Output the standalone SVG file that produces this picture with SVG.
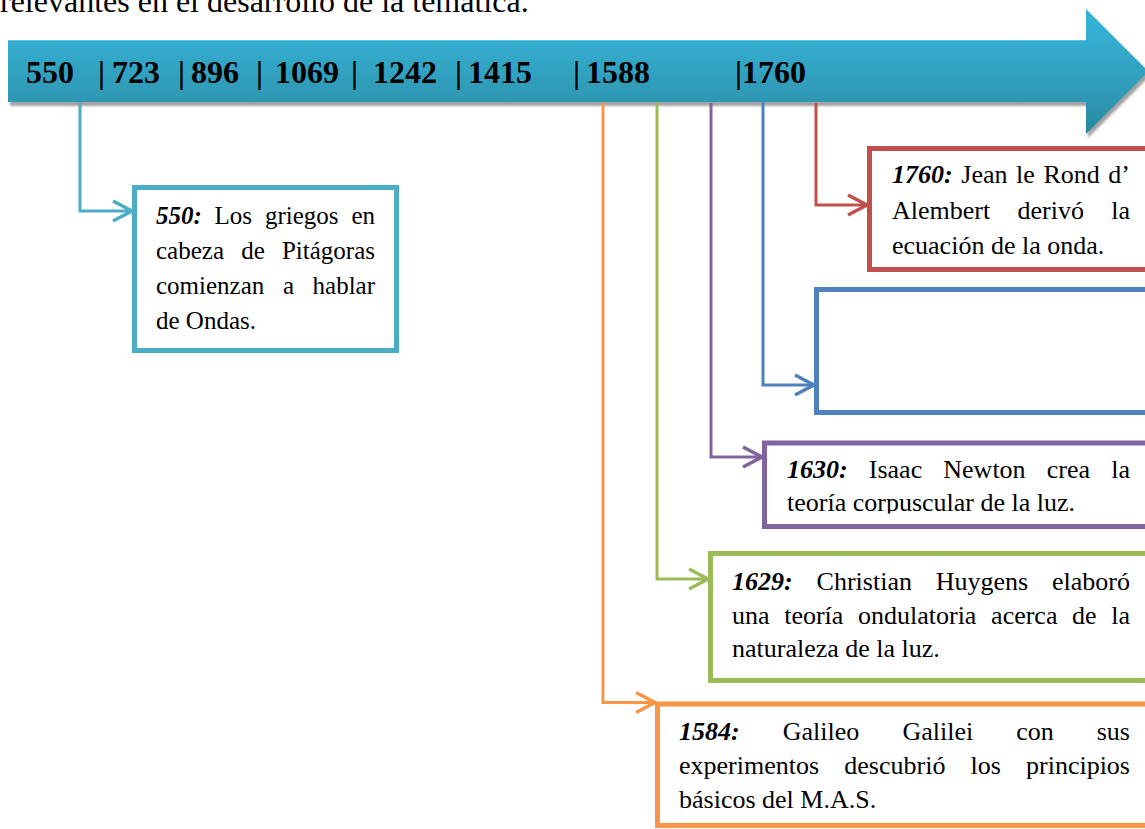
<svg xmlns="http://www.w3.org/2000/svg" width="1145" height="829" viewBox="0 0 1145 829">
  <style>
    text, tspan { font-family: "Liberation Serif", "Times New Roman", serif; }
    .txt { font-size: 26px; fill: #000; }
    .small { font-size: 25px; }
    .yr { font-weight: bold; font-style: italic; }
    .end { text-anchor: end; }
    .lbl { font-size: 32px; font-weight: bold; fill: #000; }
    .head { font-size: 32px; fill: #000; }
    .box { fill: #fff; stroke-width: 5; }
    .conn { fill: none; stroke-width: 3; stroke-linejoin: miter; }
    .chev { fill: none; stroke-width: 3.5; stroke-linecap: butt; stroke-linejoin: miter; }
    .teal { stroke: #4bacc6; }
    .red { stroke: #c0504d; }
    .blue { stroke: #4f81bd; }
    .purple { stroke: #8064a2; }
    .green { stroke: #9bbb59; }
    .orange { stroke: #f79646; }
  </style>
  <defs>
    <linearGradient id="arrowFill" gradientUnits="userSpaceOnUse" x1="0" y1="9" x2="0" y2="134">
      <stop offset="0" stop-color="#38b3d5"/>
      <stop offset="0.25" stop-color="#35aed0"/>
      <stop offset="0.75" stop-color="#2e96b2"/>
      <stop offset="1" stop-color="#2986a0"/>
    </linearGradient>
    <filter id="soft" x="-5%" y="-20%" width="110%" height="140%">
      <feGaussianBlur stdDeviation="0.8"/>
    </filter>
    <marker id="mTeal" markerUnits="userSpaceOnUse" markerWidth="30" markerHeight="30" refX="20" refY="11" orient="auto" overflow="visible">
      <path class="chev teal" d="M1,1 L20,11 L1,21"/>
    </marker>
    <marker id="mRed" markerUnits="userSpaceOnUse" markerWidth="30" markerHeight="30" refX="20" refY="11" orient="auto" overflow="visible">
      <path class="chev red" d="M1,1 L20,11 L1,21"/>
    </marker>
    <marker id="mBlue" markerUnits="userSpaceOnUse" markerWidth="30" markerHeight="30" refX="20" refY="11" orient="auto" overflow="visible">
      <path class="chev blue" d="M1,1 L20,11 L1,21"/>
    </marker>
    <marker id="mPurple" markerUnits="userSpaceOnUse" markerWidth="30" markerHeight="30" refX="20" refY="11" orient="auto" overflow="visible">
      <path class="chev purple" d="M1,1 L20,11 L1,21"/>
    </marker>
    <marker id="mGreen" markerUnits="userSpaceOnUse" markerWidth="30" markerHeight="30" refX="20" refY="11" orient="auto" overflow="visible">
      <path class="chev green" d="M1,1 L20,11 L1,21"/>
    </marker>
    <marker id="mOrange" markerUnits="userSpaceOnUse" markerWidth="30" markerHeight="30" refX="20" refY="11" orient="auto" overflow="visible">
      <path class="chev orange" d="M1,1 L20,11 L1,21"/>
    </marker>
    <clipPath id="clipNewton">
      <rect x="760" y="430" width="400" height="83.5"/>
    </clipPath>
  </defs>

  <rect width="1145" height="829" fill="#fff"/>

  <!-- running text above the timeline -->
  <text class="head" x="0" y="11.5">relevantes en el desarrollo de la temática.</text>

  <!-- timeline arrow -->
  <g id="timeline">
    <path d="M8,40 H1086 V9 L1148.5,71.5 L1086,134 V102 H8 Z" transform="translate(2,4)" fill="#a3a3a3" filter="url(#soft)"/>
    <path d="M8,40 H1086 V9 L1148.5,71.5 L1086,134 V102 H8 Z" fill="url(#arrowFill)"/>
    <line x1="8" y1="40.5" x2="1086" y2="40.5" stroke="#66c4de" stroke-width="1"/>
    <text class="lbl" x="26" y="83">550</text>
    <text class="lbl" x="98" y="83">|</text>
    <text class="lbl" x="112" y="83">723</text>
    <text class="lbl" x="178" y="83">|</text>
    <text class="lbl" x="191" y="83">896</text>
    <text class="lbl" x="256" y="83">|</text>
    <text class="lbl" x="275" y="83">1069</text>
    <text class="lbl" x="351" y="83">|</text>
    <text class="lbl" x="373" y="83">1242</text>
    <text class="lbl" x="455" y="83">|</text>
    <text class="lbl" x="468" y="83">1415</text>
    <text class="lbl" x="573" y="83">|</text>
    <text class="lbl" x="586" y="83">1588</text>
    <text class="lbl" x="735" y="83">|1760</text>
  </g>

  <!-- connectors from the timeline to the event boxes -->
  <g id="connectors">
    <path class="conn teal" d="M80,103 V211 H132" marker-end="url(#mTeal)"/>
    <path class="conn red" d="M816,103 V205 H867" marker-end="url(#mRed)"/>
    <path class="conn blue" d="M763,101 V385 H814" marker-end="url(#mBlue)"/>
    <path class="conn purple" d="M711,103 V457 H762" marker-end="url(#mPurple)"/>
    <path class="conn green" d="M657,103 V579 H708" marker-end="url(#mGreen)"/>
    <path class="conn orange" d="M603,103 V702.5 H655" marker-end="url(#mOrange)"/>
  </g>

  <!-- 550 -->
  <g id="event-550">
    <rect class="box teal" x="134.5" y="187.5" width="262" height="163"/>
    <text class="txt small" y="224"><tspan class="yr" x="156">550:</tspan><tspan x="214.6">Los</tspan><tspan x="264.9">griegos</tspan></text>
    <text class="txt small end" x="375" y="224">en</text>
    <text class="txt small" y="259"><tspan x="156">cabeza</tspan><tspan x="241.2">de</tspan></text>
    <text class="txt small end" x="375" y="259">Pitágoras</text>
    <text class="txt small" y="294"><tspan x="156">comienzan</tspan><tspan x="282.9">a</tspan></text>
    <text class="txt small end" x="375" y="294">hablar</text>
    <text class="txt small" x="156" y="329">de Ondas.</text>
  </g>

  <!-- 1760 -->
  <g id="event-1760">
    <rect class="box red" x="869.5" y="148.5" width="300" height="121"/>
    <text class="txt" y="183"><tspan class="yr" x="892">1760:</tspan><tspan x="961.3">Jean</tspan><tspan x="1016.1">le</tspan><tspan x="1043.5">Rond</tspan></text>
    <text class="txt end" x="1130" y="183">d’</text>
    <text class="txt" y="219"><tspan x="892">Alembert</tspan><tspan x="1017.5">derivó</tspan></text>
    <text class="txt end" x="1130" y="219">la</text>
    <text class="txt" x="892" y="254">ecuación de la onda.</text>
  </g>

  <!-- empty blue box -->
  <g id="event-blank">
    <rect class="box blue" x="816.5" y="289.5" width="350" height="123"/>
  </g>

  <!-- 1630 -->
  <g id="event-1630">
    <rect class="box purple" x="764.5" y="443" width="400" height="83.5"/>
    <text class="txt" y="478"><tspan class="yr" x="787">1630:</tspan><tspan x="868.8">Isaac</tspan><tspan x="943.3">Newton</tspan><tspan x="1046.7">crea</tspan></text>
    <text class="txt end" x="1130" y="478">la</text>
    <text class="txt" x="787" y="511" clip-path="url(#clipNewton)">teoría corpuscular de la luz.</text>
  </g>

  <!-- 1629 -->
  <g id="event-1629">
    <rect class="box green" x="710.5" y="553.5" width="450" height="127"/>
    <text class="txt" y="590"><tspan class="yr" x="732">1629:</tspan><tspan x="816.6">Christian</tspan><tspan x="935.8">Huygens</tspan></text>
    <text class="txt end" x="1130" y="590">elaboró</text>
    <text class="txt" y="624"><tspan x="732">una</tspan><tspan x="784.2">teoría</tspan><tspan x="858">ondulatoria</tspan><tspan x="991.1">acerca</tspan><tspan x="1072.1">de</tspan></text>
    <text class="txt end" x="1130" y="624">la</text>
    <text class="txt" x="732" y="657">naturaleza de la luz.</text>
  </g>

  <!-- 1584 -->
  <g id="event-1584">
    <rect class="box orange" x="657.5" y="704" width="500" height="121.5"/>
    <text class="txt" y="740"><tspan class="yr" x="679">1584:</tspan><tspan x="782.8">Galileo</tspan><tspan x="902.4">Galilei</tspan><tspan x="1016.3">con</tspan></text>
    <text class="txt end" x="1130" y="740">sus</text>
    <text class="txt" y="774"><tspan x="679">experimentos</tspan><tspan x="844.3">descubrió</tspan><tspan x="970.6">los</tspan></text>
    <text class="txt end" x="1130" y="774">principios</text>
    <text class="txt" x="679" y="808">básicos del M.A.S.</text>
  </g>
</svg>
